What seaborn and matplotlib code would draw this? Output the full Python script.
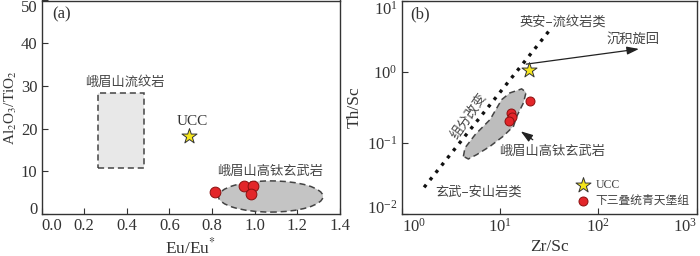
import matplotlib
matplotlib.use("Agg")
import pandas as pd
import matplotlib.pyplot as plt
import seaborn as sns
from matplotlib.patches import Ellipse, Rectangle, Polygon
from matplotlib.ticker import NullLocator, FixedLocator, LogFormatterSciNotation

# (a) Eu/Eu* vs Al2O3/TiO2
eu_anom = [0.815, 0.952, 0.99, 0.982]
al_ti = [5.1, 6.6, 6.6, 4.75]
ucc_eu = [0.692]
ucc_alti = [18.3]
rhyolite_x = [0.267, 0.48]
rhyolite_y = [10.7, 28.3]
basalt_center = [1.075, 4.1]
basalt_size = [0.49, 7.3]
xticks_a = [0, 0.2, 0.4, 0.6, 0.8, 1.0, 1.2, 1.4]
xlabels_a = ["0.0", "0.2", "0.4", "0.6", "0.8", "1.0", "1.2", "1.4"]
yticks_a = [0, 10, 20, 30, 40, 50]

# (b) Zr/Sc vs Th/Sc
zr_sc = [20.2, 12.9, 13.3, 12.3]
th_sc = [0.393, 0.264, 0.233, 0.205]
ucc_zr = [19.9]
ucc_th = [1.05]
trend_zr = [1.69, 32.3]
trend_th = [0.0237, 3.9]
field_zr = [4.24, 4.40, 5.57, 7.91, 10.4, 12.6, 16.6, 18.4, 17.3, 14.8, 13.7, 10.8, 7.91, 5.79, 4.76]
field_th = [0.0646, 0.0848, 0.130, 0.212, 0.405, 0.503, 0.573, 0.513, 0.364, 0.236, 0.171, 0.124, 0.0893, 0.0682, 0.0593]
recycle_from = [17.3, 1.26]
recycle_to = [276, 2.11]
basalt_arrow_from = [22.7, 0.105]
basalt_arrow_to = [15.4, 0.153]
xticks_b = [1, 10, 100, 1000]
yticks_b = [0.01, 0.1, 1, 10]

TXT = "#333333"
RED = "#e3262a"
YEL = "#f5e61c"

sns.set_theme(style="ticks")
plt.rcParams["font.family"] = ["Liberation Serif", "Noto Sans CJK SC"]
plt.rcParams["mathtext.fontset"] = "stix"
plt.rcParams["axes.edgecolor"] = "#333333"
plt.rcParams["text.color"] = TXT
plt.rcParams["axes.labelcolor"] = TXT
plt.rcParams["xtick.color"] = TXT
plt.rcParams["ytick.color"] = TXT

fig = plt.figure(figsize=(7, 2.56), dpi=100)
ax1 = fig.add_axes([41.5 / 700, 42 / 256, 298.5 / 700, 213.5 / 256])
ax2 = fig.add_axes([401.7 / 700, 42 / 256, 295 / 700, 213.5 / 256])

cjk = {"family": ["Noto Sans CJK SC"], "fontsize": 9.5, "color": "#444444"}

# ---- panel a
ax1.add_patch(Rectangle((rhyolite_x[0], rhyolite_y[0]), rhyolite_x[1] - rhyolite_x[0],
                        rhyolite_y[1] - rhyolite_y[0], facecolor="#e8e8e8",
                        edgecolor="#444444", ls=(0, (4, 2.5)), lw=1.1))
ax1.add_patch(Ellipse(basalt_center, basalt_size[0], basalt_size[1], facecolor="#c4c4c4",
                      edgecolor="#444444", ls=(0, (4, 2.5)), lw=1.1))
df_a = pd.DataFrame({"x": eu_anom, "y": al_ti})
sns.scatterplot(data=df_a, x="x", y="y", ax=ax1, s=60, color=RED, edgecolor="#8a1010",
                linewidth=0.7, zorder=5)
sns.scatterplot(x=ucc_eu, y=ucc_alti, ax=ax1, marker="*", s=130, color=YEL,
                edgecolor="#333333", linewidth=0.7, zorder=5)
ax1.text(0.39, 30.8, "峨眉山流纹岩", ha="center", va="center", **cjk)
ax1.text(0.705, 21.6, "UCC", ha="center", va="center", fontsize=11)
ax1.text(1.07, 9.9, "峨眉山高钛玄武岩", ha="center", va="center", **cjk)
ax1.text(0.05, 46.7, "(a)", ha="left", va="center", fontsize=12)

ax1.set_xlim(0, 1.4)
ax1.set_ylim(0, 50)
ax1.xaxis.set_major_locator(FixedLocator(xticks_a))
ax1.yaxis.set_major_locator(FixedLocator(yticks_a))
ax1.set_xticklabels(xlabels_a)
ax1.set_xlabel("Eu/Eu$^{*}$", fontsize=12.5, labelpad=2)
ax1.set_ylabel("Al$_{2}$O$_{3}$/TiO$_{2}$", fontsize=11, labelpad=1)

# ---- panel b
ax2.set_xscale("log")
ax2.set_yscale("log")
ax2.add_patch(Polygon(list(zip(field_zr, field_th)), closed=True, facecolor="#bdbdbd",
                      edgecolor="#444444", ls=(0, (4, 2.5)), lw=1.1))
sns.lineplot(x=trend_zr, y=trend_th, ax=ax2, color="#111111", lw=2.4,
             linestyle=(0, (1, 1.8)))
sns.scatterplot(x=ucc_zr, y=ucc_th, ax=ax2, marker="*", s=130, color=YEL,
                edgecolor="#333333", linewidth=0.7, zorder=5, label="UCC")
sns.scatterplot(x=zr_sc, y=th_sc, ax=ax2, s=42, color=RED, edgecolor="#8a1010",
                linewidth=0.7, zorder=5, label="下三叠统青天堡组")
ax2.annotate("", xy=recycle_to, xytext=recycle_from,
             arrowprops=dict(arrowstyle="-|>,head_length=0.6,head_width=0.2", color="#222222", lw=0.9))
ax2.annotate("", xy=basalt_arrow_to, xytext=basalt_arrow_from,
             arrowprops=dict(arrowstyle="-|>,head_length=0.6,head_width=0.2", color="#222222", lw=0.9))

ax2.text(1.53, 6.36, "(b)", ha="center", va="center", fontsize=12)
ax2.text(43, 4.95, "英安–流纹岩类", ha="center", va="center", **cjk)
ax2.text(227, 2.89, "沉积旋回", ha="center", va="center", **cjk)
ax2.text(4.9, 0.235, "组分改变", ha="center", va="center", rotation=55, **cjk)
ax2.text(33.6, 0.0758, "峨眉山高钛玄武岩", ha="center", va="center", **cjk)
ax2.text(6.0, 0.0201, "玄武–安山岩类", ha="center", va="center", **cjk)

leg = ax2.legend(loc="lower right", bbox_to_anchor=(1.0, 0.0), frameon=False,
                 handletextpad=0.1, labelspacing=0.3, borderaxespad=0.2,
                 prop={"family": ["Liberation Serif", "Noto Sans CJK SC"], "size": 8.5})
for t in leg.get_texts():
    t.set_color("#444444")

ax2.set_xlim(1, 1000)
ax2.set_ylim(0.01, 10)
ax2.xaxis.set_major_locator(FixedLocator(xticks_b))
ax2.yaxis.set_major_locator(FixedLocator(yticks_b))
ax2.xaxis.set_major_formatter(LogFormatterSciNotation())
ax2.yaxis.set_major_formatter(LogFormatterSciNotation())
ax2.xaxis.set_minor_locator(NullLocator())
ax2.yaxis.set_minor_locator(NullLocator())
ax2.set_xlabel("Zr/Sc", fontsize=12.5, labelpad=2)
ax2.set_ylabel("Th/Sc", fontsize=12.5, labelpad=3)

for ax in (ax1, ax2):
    ax.tick_params(direction="in", length=4, width=0.8, labelsize=12, pad=3)
    for sp in ax.spines.values():
        sp.set_visible(True)
        sp.set_linewidth(1.0)
    # edge labels nudged inside, as in the reference
    xt = ax.xaxis.get_major_ticks()
    yt = ax.yaxis.get_major_ticks()
    xt[0].label1.set_horizontalalignment("left")
    yt[0].label1.set_verticalalignment("baseline")
    yt[-1].label1.set_verticalalignment("top")
xt[-1].label1.set_horizontalalignment("right")

fig.savefig("out.png", dpi=100)
